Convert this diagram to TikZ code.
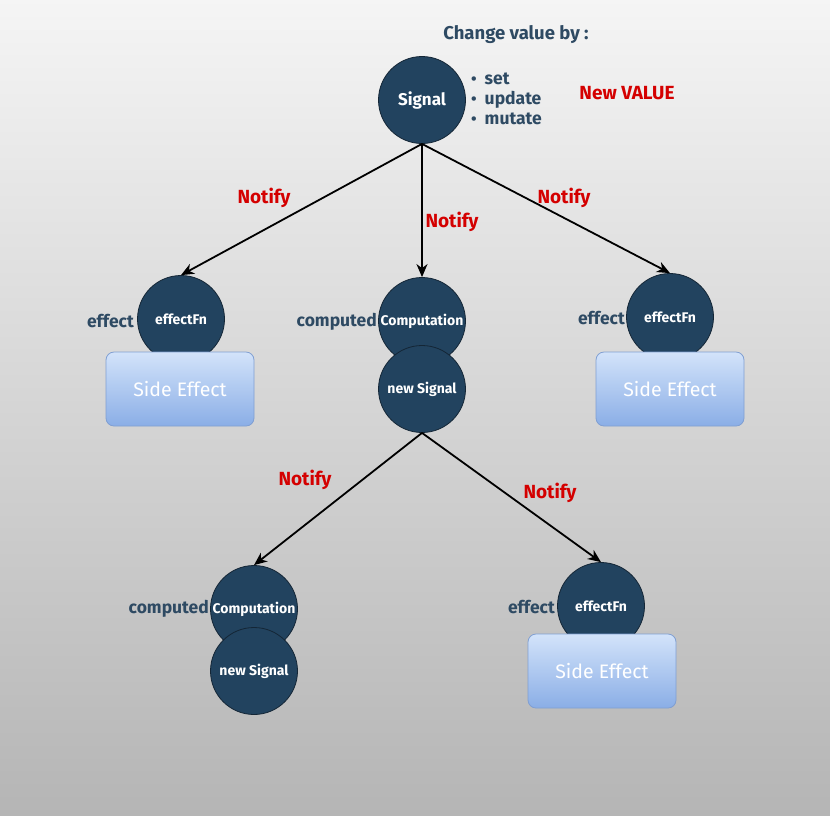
\documentclass[tikz,border=0pt]{standalone}
\usepackage{fontspec}
\setmainfont{Fira Sans}
\usetikzlibrary{arrows.meta}
\definecolor{navy}{HTML}{22435F}
\definecolor{navyline}{HTML}{142636}
\definecolor{slate}{HTML}{2E4A63}
\definecolor{redtxt}{HTML}{D40000}
\definecolor{boxtop}{HTML}{D3E3FA}
\definecolor{boxbot}{HTML}{8AAEE6}
\definecolor{boxline}{HTML}{809FD2}
\newcommand{\mybul}{{\fontsize{16}{16}\selectfont\textbullet}\hspace{8pt}}
\begin{document}
\begin{tikzpicture}[x=1pt,y=-1pt,
  bubble/.style={circle,fill=navy,draw=navyline,line width=0.8pt,minimum size=87pt,inner sep=0pt,text=white,font=\fontsize{14}{16}\selectfont\bfseries},
  sidebox/.style={rounded corners=8pt,draw=boxline,line width=0.8pt,top color=boxtop,bottom color=boxbot,minimum width=148pt,minimum height=74pt,text=white,font=\fontsize{19.5}{21}\selectfont},
  lbl/.style={text=slate,font=\fontsize{18.5}{20}\selectfont\bfseries,inner sep=0pt},
  side/.style={lbl,anchor=east,font=\fontsize{17.5}{19}\selectfont\bfseries},
  notify/.style={text=redtxt,font=\fontsize{19}{21}\selectfont\bfseries,inner sep=0pt},
  conn/.style={-{Stealth[length=13pt,width=11pt,inset=4pt]},line width=1.8pt,black}
]
\shade[top color=white!96!black,bottom color=white!71!black] (0,0) rectangle (830,815);
\useasboundingbox (0,0) rectangle (830,815);

% top
\node[lbl] (chg) at (516,35) {Change value by :};
\node[bubble,font=\fontsize{17}{19}\selectfont\bfseries] (sig) at (422,100) {Signal};
\node[lbl,anchor=west,align=left,font=\fontsize{17.5}{19}\selectfont\bfseries] (ops) at (471,99) {\mybul set\\[1pt]\mybul update\\[1pt]\mybul mutate};
\node[notify] (newv) at (627,93) {New VALUE};

% second level
\node[bubble] (ef1) at (181,319) {effectFn};
\node[sidebox] (se1) at (180,389) {Side Effect};
\node[side] (l1) at (134,321) {effect};

\node[bubble] (comp1) at (422,321) {Computation};
\node[bubble] (ns1) at (422,389) {new Signal};
\node[side] (l2) at (377,322) {computed};

\node[bubble] (ef2) at (670,317) {effectFn};
\node[sidebox] (se2) at (670,389) {Side Effect};
\node[side] (l3) at (625,318) {effect};

% third level
\node[bubble] (comp2) at (254,609) {Computation};
\node[bubble] (ns2) at (254,671) {new Signal};
\node[side] (l4) at (209,609) {computed};

\node[bubble] (ef3) at (601,606) {effectFn};
\node[sidebox] (se3) at (602,671) {Side Effect};
\node[side] (l5) at (555,607) {effect};

% connectors
\draw[conn] (sig.south) -- (ef1.north);
\draw[conn] (sig.south) -- (comp1.north);
\draw[conn] (sig.south) -- (ef2.north);
\draw[conn] (ns1.south) -- (comp2.north);
\draw[conn] (ns1.south) -- (ef3.north);

% labels
\node[notify] (n1) at (264,198) {Notify};
\node[notify] (n2) at (452,222) {Notify};
\node[notify] (n3) at (564,198) {Notify};
\node[notify] (n4) at (305,480) {Notify};
\node[notify] (n5) at (550,493) {Notify};
\end{tikzpicture}
\end{document}
